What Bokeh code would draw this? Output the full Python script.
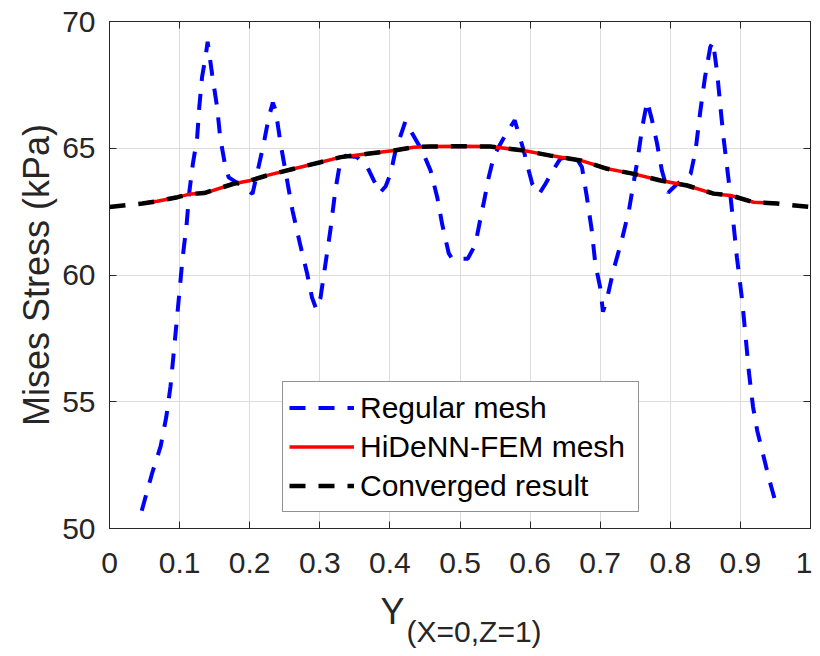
from bokeh.plotting import figure
from bokeh.models import Range1d, LinearAxis, Legend, LegendItem, Label, FixedTicker
from bokeh.embed import file_html
from bokeh.resources import INLINE

# ---------------- data ----------------
reg_x = [0.046, 0.061, 0.073, 0.081, 0.087, 0.091, 0.0956, 0.100, 0.104, 0.110, 0.114, 0.119,
         0.125, 0.128, 0.132, 0.137, 0.140, 0.1465, 0.1536, 0.158, 0.1645, 0.170, 0.190, 0.204,
         0.220, 0.227, 0.233, 0.237, 0.244, 0.251, 0.261, 0.272, 0.282, 0.289, 0.295, 0.301,
         0.315, 0.322, 0.329, 0.336, 0.353, 0.368, 0.377, 0.386, 0.394, 0.401, 0.408, 0.422,
         0.439, 0.446, 0.458, 0.4675, 0.4746, 0.484, 0.489, 0.511, 0.520, 0.524, 0.529, 0.534,
         0.541, 0.548, 0.555, 0.567, 0.578, 0.586, 0.591, 0.598, 0.603, 0.613, 0.622, 0.634,
         0.643, 0.664, 0.674, 0.681, 0.688, 0.693, 0.700, 0.704, 0.710, 0.719, 0.731, 0.741,
         0.753, 0.760, 0.767, 0.774, 0.781, 0.788, 0.797, 0.810, 0.829, 0.836, 0.843, 0.8495,
         0.857, 0.861, 0.867, 0.8716, 0.876, 0.881, 0.886, 0.8906, 0.895, 0.9025, 0.907, 0.912,
         0.918, 0.924, 0.931, 0.9405, 0.953]
reg_y = [50.7, 52.2, 53.25, 54.4, 55.6, 56.75, 58.1, 59.4, 60.6, 62.0, 63.3, 64.4,
         65.4, 66.6, 67.8, 68.6, 69.2, 67.9, 66.6, 65.4, 64.4, 63.85, 63.5, 63.2,
         65.18, 66.2, 66.8, 66.5, 65.2, 64.1, 62.55, 61.2, 60.05, 59.1, 58.65, 59.1,
         61.75, 63.3, 64.45, 64.7, 64.65, 64.25, 63.73, 63.25, 63.5, 64.0, 64.9, 66.05,
         65.24, 64.9, 64.12, 63.07, 62.0, 60.85, 60.64, 60.64, 61.1, 61.5, 62.2, 62.87,
         63.86, 64.65, 65.04, 65.63, 66.1, 65.37, 64.9, 64.12, 63.6, 63.2, 63.6, 64.19,
         64.58, 64.7, 64.25, 63.07, 61.76, 60.45, 59.5, 58.55, 59.1, 60.2, 61.4, 62.55,
         64.5, 65.83, 66.85, 66.1, 65.2, 64.12, 63.25, 63.6, 63.99, 64.9, 66.5, 67.8,
         68.99, 69.2, 67.94, 66.6, 65.4, 64.25, 63.07, 61.9, 60.7, 59.0, 57.7, 56.2,
         54.8, 53.86, 53.08, 52.0, 50.75]

hid_x = [0.047, 0.068, 0.097, 0.116, 0.135, 0.177, 0.201, 0.225, 0.263, 0.301, 0.330, 0.368,
         0.406, 0.434, 0.458, 0.500, 0.543, 0.591, 0.629, 0.672, 0.710, 0.748, 0.786, 0.824,
         0.862, 0.886, 0.919, 0.952]
hid_y = [62.83, 62.91, 63.07, 63.20, 63.22, 63.60, 63.73, 63.93, 64.19, 64.45, 64.65, 64.78,
         64.91, 65.04, 65.07, 65.08, 65.07, 64.91, 64.71, 64.52, 64.19, 63.99, 63.73, 63.53,
         63.20, 63.14, 62.87, 62.83]

conv_x = [0.000, 0.047, 0.068, 0.097, 0.116, 0.135, 0.177, 0.201, 0.225, 0.263, 0.301, 0.330,
          0.368, 0.406, 0.434, 0.458, 0.500, 0.543, 0.591, 0.629, 0.672, 0.710, 0.748, 0.786,
          0.824, 0.862, 0.886, 0.919, 0.952, 1.000]
conv_y = [62.68, 62.82, 62.91, 63.07, 63.20, 63.23, 63.60, 63.73, 63.93, 64.19, 64.45, 64.65,
          64.78, 64.91, 65.04, 65.07, 65.08, 65.07, 64.91, 64.71, 64.52, 64.19, 63.99, 63.73,
          63.53, 63.21, 63.14, 62.87, 62.82, 62.68]

x_ticks = [0, 0.1, 0.2, 0.3, 0.4, 0.5, 0.6, 0.7, 0.8, 0.9, 1]
x_tick_labels = ["0", "0.1", "0.2", "0.3", "0.4", "0.5", "0.6", "0.7", "0.8", "0.9", "1"]
y_ticks = [50, 55, 60, 65, 70]
y_tick_labels = ["50", "55", "60", "65", "70"]

series_names = ["Regular mesh", "HiDeNN-FEM mesh", "Converged result"]
y_label = "Mises Stress (kPa)"
x_label_main = "Y"
x_label_sub = "(X=0,Z=1)"

FONT = "Liberation Sans"
AX = "#262626"

p = figure(frame_width=701, frame_height=507,
           x_range=Range1d(0, 1), y_range=Range1d(50, 70),
           output_backend="svg", toolbar_location=None,
           min_border_left=109, min_border_right=2, min_border_top=21, min_border_bottom=120,
           background_fill_color="white", border_fill_color="white")
p.outline_line_color = AX

xt = FixedTicker(ticks=x_ticks)
yt = FixedTicker(ticks=y_ticks)

for ax in (p.xaxis[0], p.yaxis[0]):
    ax.major_tick_in = 7
    ax.major_tick_out = 0
    ax.minor_tick_line_color = None
    ax.axis_line_color = AX
    ax.major_tick_line_color = AX
    ax.major_label_text_font = FONT
    ax.major_label_text_font_size = "30px"
    ax.major_label_text_color = AX
    ax.axis_label_text_font = FONT
    ax.axis_label_text_font_style = "normal"
    ax.axis_label_text_color = AX

p.xaxis[0].ticker = xt
p.xaxis[0].major_label_overrides = dict(zip(x_ticks, x_tick_labels))
p.xaxis[0].major_label_standoff = 24
p.yaxis[0].ticker = yt
p.yaxis[0].major_label_overrides = dict(zip(y_ticks, y_tick_labels))
p.yaxis[0].major_label_standoff = 14
p.yaxis[0].axis_label = y_label
p.yaxis[0].axis_label_text_font_size = "36px"
p.yaxis[0].axis_label_standoff = 2

# top and right box axes with inward ticks (labels not painted)
top = LinearAxis(ticker=xt, major_tick_in=7, major_tick_out=0, minor_tick_line_color=None,
                 major_label_text_font_size="1px", major_label_text_color=None,
                 major_label_standoff=0, axis_line_color=AX, major_tick_line_color=AX)
right = LinearAxis(ticker=yt, major_tick_in=7, major_tick_out=0, minor_tick_line_color=None,
                   major_label_text_font_size="1px", major_label_text_color=None,
                   major_label_standoff=0, axis_line_color=AX, major_tick_line_color=AX)
p.add_layout(top, "above")
p.add_layout(right, "right")

p.xgrid.ticker = xt
p.ygrid.ticker = yt
p.xgrid.grid_line_color = "#dcdcdc"
p.ygrid.grid_line_color = "#dcdcdc"

r1 = p.line(reg_x, reg_y, line_color="#0000ff", line_width=4, line_dash="16 13")
r2 = p.line(hid_x, hid_y, line_color="#ff0000", line_width=3.5)
r3 = p.line(conv_x, conv_y, line_color="black", line_width=4.5, line_dash="16 13")

legend = Legend(items=[LegendItem(label=series_names[0], renderers=[r1]),
                       LegendItem(label=series_names[1], renderers=[r2]),
                       LegendItem(label=series_names[2], renderers=[r3])],
                location=(173, 16))
legend.label_text_font = FONT
legend.label_text_font_size = "30px"
legend.label_text_color = "black"
legend.glyph_width = 65
legend.glyph_height = 39
legend.label_height = 39
legend.label_width = 272
legend.label_standoff = 6
legend.spacing = 0
legend.padding = 6
legend.margin = 0
legend.border_line_color = AX
legend.border_line_width = 1
legend.background_fill_color = "white"
legend.background_fill_alpha = 1
p.add_layout(legend)

# x-axis title with subscript, placed in the bottom side panel (not clipped)
p.add_layout(Label(x=0.3866, y=5, y_units="screen", text=x_label_main, text_font=FONT,
                   text_font_size="36px", text_color=AX, text_align="left",
                   text_baseline="alphabetic"), "below")
p.add_layout(Label(x=0.4237, y=18, y_units="screen", text=x_label_sub, text_font=FONT,
                   text_font_size="30px", text_color=AX, text_align="left",
                   text_baseline="alphabetic"), "below")

open("out.html", "w").write(file_html(p, INLINE))
